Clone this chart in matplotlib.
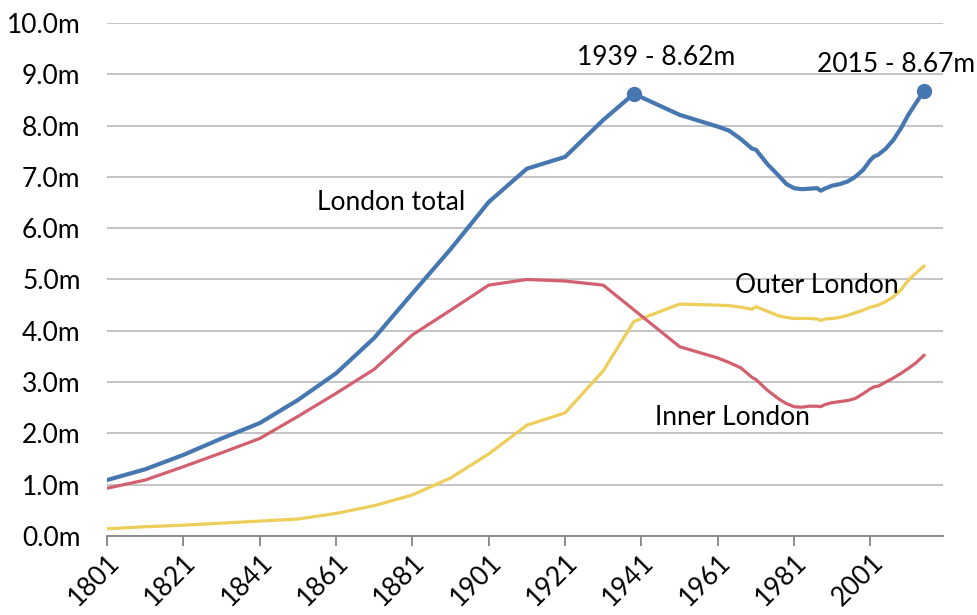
import matplotlib.pyplot as plt
from matplotlib.ticker import FuncFormatter

plt.rcParams['font.family'] = ['Lato', 'DejaVu Sans']

years = [1801, 1811, 1821, 1831, 1841, 1851, 1861, 1871, 1881, 1891,
         1901, 1911, 1921, 1931, 1939, 1951, 1961, 1964, 1967, 1970,
         1971, 1974, 1977, 1979, 1981, 1983, 1985, 1987, 1988, 1989,
         1991, 1993, 1995, 1997, 1999, 2001, 2002, 2003, 2005, 2007,
         2009, 2011, 2013, 2015]

london_total = [1.09, 1.30, 1.58, 1.90, 2.20, 2.65, 3.17, 3.86, 4.73, 5.59,
                6.51, 7.16, 7.39, 8.11, 8.62, 8.21, 7.98, 7.90, 7.74, 7.55,
                7.53, 7.25, 7.02, 6.86, 6.78, 6.76, 6.77, 6.78, 6.73, 6.77,
                6.83, 6.86, 6.91, 7.00, 7.13, 7.33, 7.40, 7.43, 7.55, 7.72,
                7.95, 8.22, 8.45, 8.67]

inner_london = [0.93, 1.09, 1.35, 1.62, 1.90, 2.33, 2.78, 3.25, 3.92, 4.40,
                4.89, 5.00, 4.97, 4.89, 4.41, 3.69, 3.47, 3.38, 3.28, 3.09,
                3.05, 2.84, 2.67, 2.58, 2.52, 2.51, 2.53, 2.53, 2.52, 2.56,
                2.60, 2.62, 2.64, 2.68, 2.77, 2.87, 2.91, 2.92, 3.00, 3.08,
                3.17, 3.27, 3.38, 3.52]

outer_london = [0.14, 0.18, 0.21, 0.25, 0.29, 0.33, 0.44, 0.59, 0.80, 1.13,
                1.60, 2.16, 2.40, 3.22, 4.18, 4.52, 4.50, 4.49, 4.46, 4.42,
                4.47, 4.38, 4.29, 4.26, 4.24, 4.24, 4.24, 4.23, 4.20, 4.23,
                4.24, 4.26, 4.30, 4.35, 4.40, 4.46, 4.48, 4.50, 4.57, 4.66,
                4.80, 4.99, 5.13, 5.26]

peak_years = [1939, 2015]
peak_values = [8.62, 8.67]
peak_labels = ['1939 - 8.62m', '2015 - 8.67m']

x_ticks = list(range(1801, 2002, 20))

blue = '#4677b0'
red = '#d2606f'
yellow = '#ecce58'

fig = plt.figure(figsize=(9.77, 6.15), dpi=100)
ax = fig.add_axes([0.1095, 0.1285, 0.8557, 0.8341])

ax.plot(years, outer_london, color=yellow, lw=2.3, zorder=3)
ax.plot(years, inner_london, color=red, lw=2.3, zorder=3)
ax.plot(years, london_total, color=blue, lw=3.0, zorder=4)
ax.plot(peak_years, peak_values, 'o', color=blue, ms=10, zorder=5)

ax.set_xlim(1801, 2020)
ax.set_ylim(0, 10)
ax.set_yticks(range(0, 11))
ax.yaxis.set_major_formatter(FuncFormatter(lambda v, p: f'{v:.1f}m'))
ax.set_xticks(x_ticks)
ax.set_xticklabels([str(y) for y in x_ticks], rotation=45, ha='right',
                   rotation_mode='anchor')

ax.grid(axis='y', color='#c4c4c4', lw=1.4)
ax.set_axisbelow(True)
for side in ['left', 'right', 'top']:
    ax.spines[side].set_visible(False)
ax.spines['bottom'].set_color('#8c8c8c')
ax.spines['bottom'].set_linewidth(1.4)
ax.tick_params(axis='y', length=0, labelsize=19, pad=19)
ax.tick_params(axis='x', length=7, width=1.4, color='#8c8c8c',
               labelsize=19, pad=3)

ax.text(1856, 6.5, 'London total', fontsize=19, va='center')
ax.text(1965.5, 4.89, 'Outer London', fontsize=19, va='center')
ax.text(1944.5, 2.30, 'Inner London', fontsize=19, va='center')
ax.text(1924, 9.32, peak_labels[0], fontsize=19, va='center')
ax.text(1987, 9.2, peak_labels[1], fontsize=19, va='center', clip_on=False)

fig.savefig('out.png', dpi=100)
